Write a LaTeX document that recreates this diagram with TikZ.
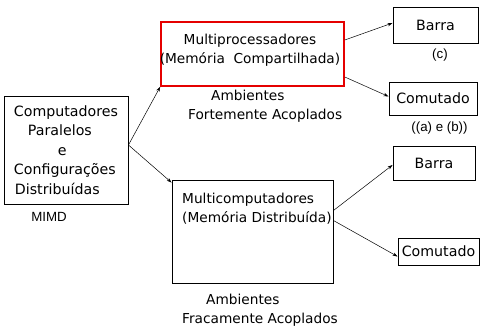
\documentclass[tikz,border=0pt]{standalone}
\usepackage{fontspec}
\setmainfont{DejaVu Sans}
\newfontfamily\arialf{Liberation Sans}
\usetikzlibrary{arrows.meta}
\tikzset{
  box/.style={draw=black, line width=0.9pt, inner sep=0pt},
  redbox/.style={draw=red!90!black, line width=1.6pt, inner sep=0pt},
  comic/.style={font=\fontsize{13.7}{19}\selectfont},
  big/.style={font=\fontsize{14.2}{19.5}\selectfont},
  small/.style={font=\arialf\fontsize{13.3}{16}\selectfont, inner sep=0pt},
  txt/.style={inner sep=0pt},
  conn/.style={line width=0.5pt, -{Stealth[length=5pt,width=3.4pt]}}
}
\begin{document}
\begin{tikzpicture}[x=1pt,y=-1pt]
\useasboundingbox (0,0) rectangle (480,328);
% main boxes
\node[box, big, align=left, minimum width=124pt, minimum height=108pt] (L) at (66,150)
  {Computadores\\\hspace*{14pt}Paralelos\\\hspace*{44pt}e\\Configurações\\\hspace*{1pt}Distribuídas};
\node[redbox, minimum width=183pt, minimum height=64pt] (R) at (252.5,54) {};
\node[box, minimum width=161pt, minimum height=103pt] (M) at (252.5,231.5) {};
% right boxes
\node[box, big, minimum width=85pt, minimum height=36pt] (B1) at (435.5,25) {Barra};
\node[box, big, minimum width=88pt, minimum height=33pt] (C1) at (433,98.5) {Comutado};
\node[box, big, minimum width=82pt, minimum height=34pt] (B2) at (434,163) {Barra};
\node[box, big, minimum width=81pt, minimum height=27pt] (C2) at (438.5,251.5) {Comutado};
% texts
\node[txt, comic, align=center] (RT) at (250,50) {Multiprocessadores\\(Memória\ \ Compartilhada)};
\node[txt, comic, align=left, anchor=west] (MT) at (182,208.5) {Multicomputadores\\(Memória Distribuída)};
\node[txt, comic, align=left, anchor=west] (FA) at (188,106.5) {\hspace*{23pt}Ambientes\\Fortemente Acoplados};
\node[txt, comic, align=left, anchor=west] (FR) at (182,310) {\hspace*{24pt}Ambientes\\Fracamente Acoplados};
\node[small] (MIMD) at (49,217) {MIMD};
\node[small] (c) at (440,55) {(c)};
\node[small] (ab) at (439.5,128) {((a) e (b))};
% connectors
\draw[conn] ([yshift=5pt]L.east) -- (R.south west);
\draw[conn] ([yshift=5pt]L.east) -- ([yshift=-3pt]M.north west);
\draw[conn] ([yshift=14pt]R.east) -- ([yshift=2pt]B1.west);
\draw[conn] ([yshift=-23pt]R.east) -- ([yshift=2pt]C1.west);
\draw[conn] ([yshift=21pt]M.east) -- ([yshift=-2pt]B2.west);
\draw[conn] ([yshift=11pt]M.east) -- ([yshift=-5pt]C2.west);
\end{tikzpicture}
\end{document}
